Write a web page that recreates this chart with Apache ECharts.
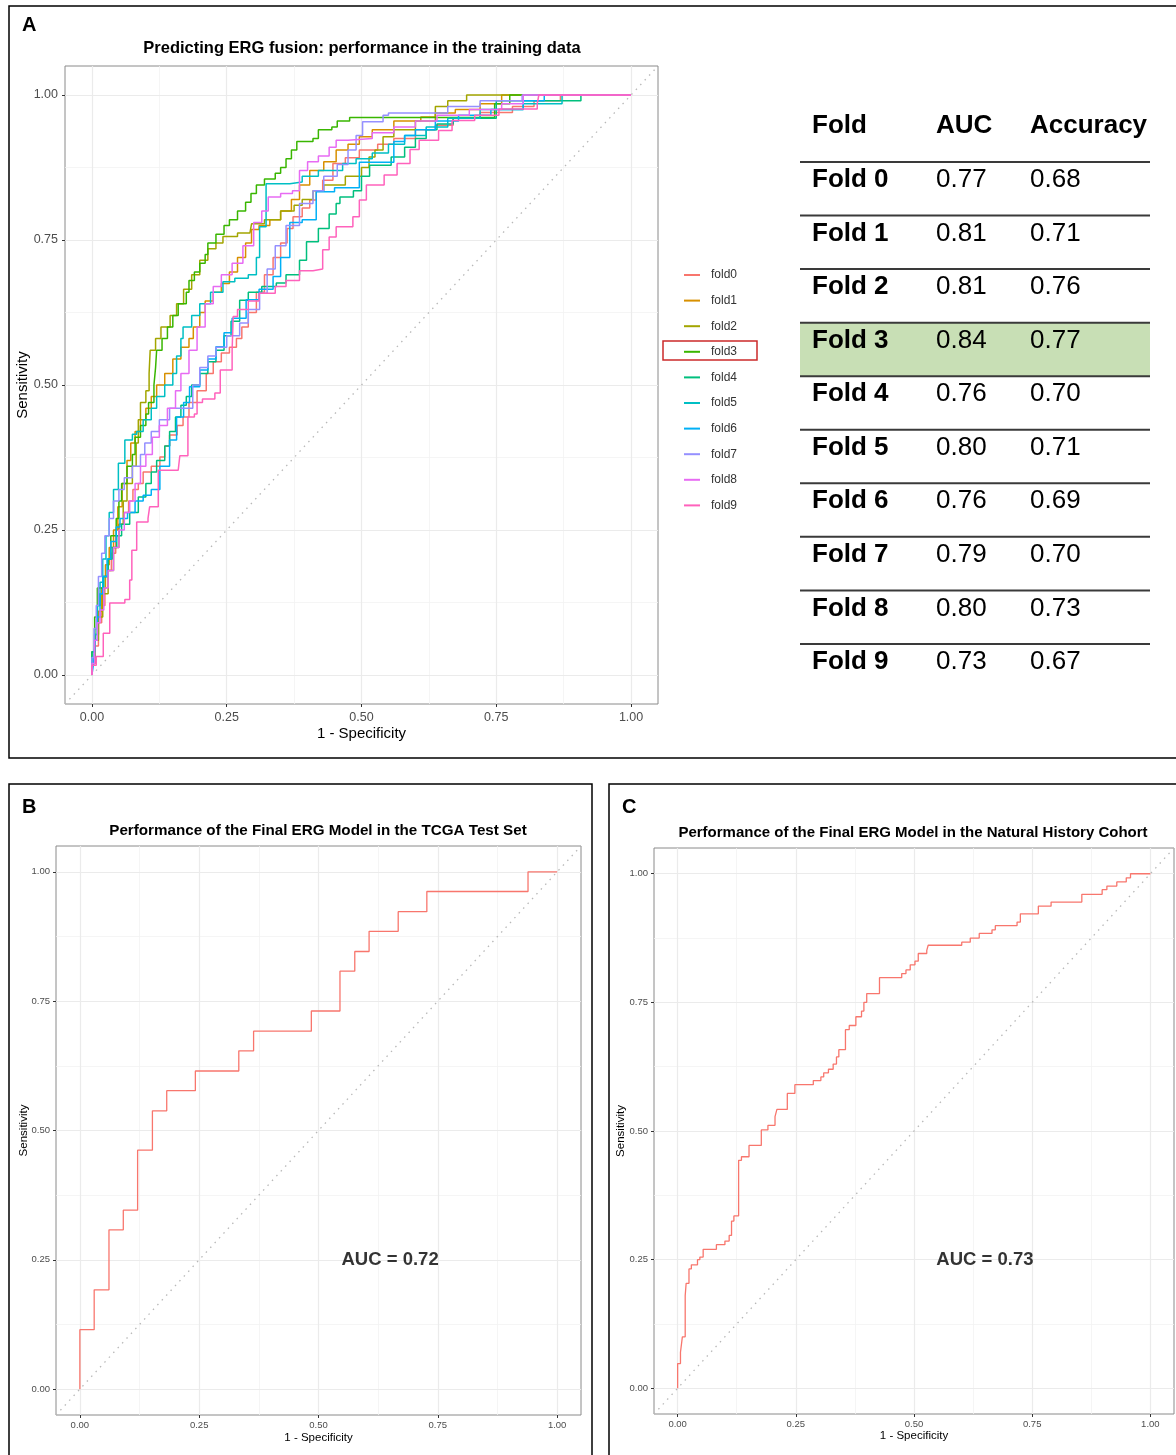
<!DOCTYPE html>
<html>
<head>
<meta charset="utf-8">
<script src="https://cdn.jsdelivr.net/npm/echarts@6/dist/echarts.min.js"></script>
<style>
  html, body { margin: 0; padding: 0; background: #ffffff; }
  #chart { width: 1176px; height: 1455px; }
</style>
</head>
<body>
<div id="chart"></div>
<script>
// ---- ROC curves of the 10 cross-validation folds: [1 - specificity, sensitivity] corner points ----
const foldNames = ['fold0', 'fold1', 'fold2', 'fold3', 'fold4', 'fold5', 'fold6', 'fold7', 'fold8', 'fold9'];

const fold0 = [[0,0],[0,0.02],[0.006,0.05],[0.012,0.09],[0.018,0.12],[0.024,0.15],[0.03,0.18],[0.036,0.21],[0.044,0.24],[0.05,0.26],[0.06,0.28],[0.068,0.3],[0.076,0.32],[0.086,0.33],[0.095,0.35],[0.11,0.36],[0.126,0.376],[0.135,0.395],[0.144,0.414],[0.158,0.43],[0.169,0.445],[0.18,0.47],[0.195,0.49],[0.212,0.52],[0.225,0.54],[0.24,0.555],[0.255,0.565],[0.268,0.58],[0.278,0.6],[0.29,0.625],[0.305,0.66],[0.32,0.69],[0.336,0.72],[0.35,0.745],[0.362,0.77],[0.373,0.79],[0.39,0.805],[0.404,0.819],[0.416,0.835],[0.428,0.853],[0.447,0.882],[0.47,0.892],[0.496,0.905],[0.53,0.915],[0.56,0.925],[0.6,0.94],[0.637,0.948],[0.67,0.96],[0.72,0.97],[0.78,0.98],[0.82,0.99],[0.869,1],[1,1]];
const fold1 = [[0,0],[0,0.03],[0.006,0.07],[0.012,0.11],[0.018,0.15],[0.025,0.19],[0.032,0.22],[0.04,0.25],[0.048,0.29],[0.056,0.33],[0.065,0.37],[0.072,0.4],[0.08,0.42],[0.09,0.44],[0.1,0.46],[0.11,0.48],[0.12,0.5],[0.135,0.52],[0.15,0.545],[0.165,0.565],[0.18,0.58],[0.188,0.6],[0.2,0.625],[0.21,0.645],[0.225,0.66],[0.24,0.675],[0.255,0.695],[0.27,0.72],[0.285,0.745],[0.296,0.768],[0.31,0.775],[0.33,0.785],[0.35,0.8],[0.37,0.82],[0.385,0.845],[0.404,0.87],[0.43,0.885],[0.453,0.905],[0.475,0.915],[0.496,0.928],[0.52,0.94],[0.56,0.955],[0.61,0.962],[0.637,0.969],[0.674,0.975],[0.72,0.985],[0.76,1],[1,1]];
const fold2 = [[0,0],[0,0.02],[0.005,0.06],[0.012,0.1],[0.02,0.14],[0.03,0.18],[0.04,0.22],[0.05,0.26],[0.058,0.3],[0.065,0.33],[0.075,0.36],[0.082,0.4],[0.086,0.44],[0.09,0.47],[0.1,0.49],[0.106,0.52],[0.108,0.56],[0.118,0.58],[0.128,0.6],[0.145,0.62],[0.157,0.64],[0.17,0.665],[0.185,0.69],[0.2,0.715],[0.215,0.735],[0.23,0.745],[0.243,0.756],[0.27,0.762],[0.293,0.765],[0.296,0.778],[0.32,0.785],[0.35,0.8],[0.375,0.81],[0.39,0.82],[0.41,0.835],[0.43,0.845],[0.47,0.86],[0.5,0.875],[0.514,0.893],[0.525,0.905],[0.54,0.928],[0.56,0.94],[0.6,0.955],[0.637,0.98],[0.66,0.99],[0.695,1],[1,1]];
const fold3 = [[0,0],[0,0.04],[0.005,0.1],[0.01,0.15],[0.02,0.17],[0.03,0.2],[0.035,0.24],[0.045,0.27],[0.05,0.3],[0.055,0.33],[0.065,0.36],[0.075,0.38],[0.08,0.41],[0.09,0.43],[0.1,0.45],[0.105,0.47],[0.115,0.5],[0.118,0.53],[0.12,0.56],[0.13,0.58],[0.14,0.6],[0.15,0.62],[0.16,0.64],[0.175,0.66],[0.18,0.68],[0.19,0.695],[0.2,0.71],[0.21,0.725],[0.215,0.745],[0.23,0.76],[0.245,0.775],[0.255,0.785],[0.27,0.8],[0.285,0.815],[0.295,0.83],[0.305,0.845],[0.32,0.855],[0.34,0.865],[0.35,0.875],[0.36,0.89],[0.37,0.905],[0.38,0.92],[0.41,0.925],[0.42,0.94],[0.445,0.945],[0.455,0.955],[0.478,0.961],[0.747,0.985],[0.775,1],[1,1]];
const fold4 = [[0,0],[0,0.04],[0.005,0.08],[0.01,0.12],[0.015,0.14],[0.022,0.17],[0.03,0.2],[0.038,0.22],[0.046,0.24],[0.055,0.26],[0.07,0.28],[0.086,0.307],[0.1,0.33],[0.11,0.35],[0.12,0.37],[0.135,0.395],[0.144,0.42],[0.155,0.445],[0.165,0.465],[0.175,0.48],[0.185,0.5],[0.2,0.52],[0.215,0.54],[0.23,0.56],[0.245,0.585],[0.258,0.61],[0.274,0.646],[0.29,0.66],[0.315,0.67],[0.342,0.676],[0.36,0.69],[0.385,0.715],[0.398,0.747],[0.42,0.77],[0.44,0.795],[0.453,0.813],[0.46,0.824],[0.485,0.835],[0.5,0.86],[0.515,0.879],[0.555,0.893],[0.58,0.91],[0.6,0.925],[0.62,0.94],[0.64,0.95],[0.67,0.96],[0.75,0.99],[0.907,1],[1,1]];
const fold5 = [[0,0],[0,0.03],[0.005,0.07],[0.01,0.12],[0.015,0.16],[0.02,0.2],[0.026,0.24],[0.032,0.28],[0.04,0.32],[0.049,0.365],[0.061,0.405],[0.075,0.415],[0.083,0.42],[0.095,0.44],[0.11,0.46],[0.12,0.48],[0.135,0.5],[0.15,0.52],[0.157,0.55],[0.165,0.58],[0.169,0.6],[0.185,0.62],[0.2,0.64],[0.22,0.66],[0.243,0.678],[0.265,0.684],[0.29,0.69],[0.305,0.72],[0.311,0.773],[0.323,0.847],[0.367,0.85],[0.39,0.86],[0.42,0.87],[0.465,0.882],[0.49,0.89],[0.52,0.9],[0.55,0.915],[0.58,0.93],[0.62,0.945],[0.66,0.96],[0.72,0.975],[0.8,0.985],[0.872,1],[1,1]];
const fold6 = [[0,0],[0.003,0.02],[0.006,0.06],[0.01,0.1],[0.015,0.14],[0.02,0.17],[0.028,0.2],[0.035,0.23],[0.045,0.255],[0.052,0.27],[0.066,0.28],[0.08,0.3],[0.095,0.31],[0.11,0.32],[0.126,0.36],[0.144,0.405],[0.157,0.445],[0.17,0.47],[0.181,0.497],[0.2,0.526],[0.215,0.545],[0.23,0.566],[0.245,0.59],[0.26,0.615],[0.286,0.647],[0.31,0.665],[0.336,0.687],[0.35,0.72],[0.367,0.78],[0.39,0.785],[0.416,0.833],[0.45,0.84],[0.496,0.884],[0.554,0.884],[0.56,0.92],[0.58,0.93],[0.6,0.94],[0.637,0.955],[0.68,0.965],[0.74,0.975],[0.8,0.99],[0.839,1],[1,1]];
const fold7 = [[0,0],[0,0.03],[0.004,0.08],[0.008,0.12],[0.012,0.17],[0.018,0.21],[0.024,0.24],[0.032,0.27],[0.04,0.3],[0.05,0.32],[0.06,0.34],[0.075,0.36],[0.09,0.38],[0.098,0.4],[0.11,0.42],[0.125,0.44],[0.144,0.46],[0.181,0.46],[0.187,0.5],[0.2,0.53],[0.215,0.55],[0.23,0.565],[0.25,0.585],[0.274,0.607],[0.29,0.63],[0.311,0.658],[0.325,0.7],[0.34,0.74],[0.36,0.775],[0.385,0.813],[0.41,0.835],[0.43,0.86],[0.455,0.88],[0.475,0.905],[0.49,0.93],[0.502,0.954],[0.54,0.965],[0.55,0.969],[0.625,0.969],[0.66,0.98],[0.72,0.99],[0.798,1],[1,1]];
const fold8 = [[0,0],[0,0.02],[0.005,0.06],[0.01,0.09],[0.015,0.112],[0.022,0.15],[0.03,0.18],[0.04,0.22],[0.05,0.25],[0.06,0.28],[0.07,0.3],[0.08,0.33],[0.09,0.36],[0.1,0.38],[0.112,0.41],[0.125,0.43],[0.14,0.46],[0.155,0.49],[0.165,0.52],[0.18,0.56],[0.195,0.6],[0.21,0.64],[0.225,0.67],[0.24,0.69],[0.26,0.71],[0.28,0.74],[0.3,0.78],[0.315,0.8],[0.327,0.824],[0.35,0.83],[0.372,0.835],[0.385,0.87],[0.4,0.885],[0.42,0.895],[0.44,0.91],[0.453,0.922],[0.475,0.925],[0.52,0.935],[0.56,0.945],[0.6,0.955],[0.64,0.965],[0.7,0.975],[0.76,0.985],[0.8,1],[1,1]];
const fold9 = [[0,0],[0,0.017],[0.008,0.032],[0.021,0.072],[0.033,0.124],[0.061,0.13],[0.07,0.164],[0.074,0.215],[0.083,0.264],[0.104,0.27],[0.107,0.29],[0.123,0.353],[0.16,0.353],[0.163,0.378],[0.178,0.445],[0.19,0.45],[0.195,0.47],[0.205,0.476],[0.228,0.486],[0.238,0.526],[0.26,0.56],[0.262,0.618],[0.27,0.63],[0.29,0.645],[0.31,0.658],[0.34,0.67],[0.36,0.68],[0.385,0.697],[0.41,0.7],[0.428,0.733],[0.44,0.755],[0.453,0.773],[0.484,0.79],[0.496,0.819],[0.509,0.845],[0.542,0.862],[0.566,0.882],[0.59,0.906],[0.607,0.922],[0.643,0.939],[0.668,0.956],[0.71,0.965],[0.755,0.976],[0.826,0.985],[0.829,1],[1,1]];
const foldCurves = [fold0, fold1, fold2, fold3, fold4, fold5, fold6, fold7, fold8, fold9];

// ---- Per-fold summary table ----
const tableFolds = ['Fold 0', 'Fold 1', 'Fold 2', 'Fold 3', 'Fold 4', 'Fold 5', 'Fold 6', 'Fold 7', 'Fold 8', 'Fold 9'];
const tableAUC = ['0.77', '0.81', '0.81', '0.84', '0.76', '0.80', '0.76', '0.79', '0.80', '0.73'];
const tableAccuracy = ['0.68', '0.71', '0.76', '0.77', '0.70', '0.71', '0.69', '0.70', '0.73', '0.67'];
const bestFoldRow = 3;

// ---- Final model: TCGA test set ----
const tcgaROC = [[0,0],[0,0.115],[0.03,0.192],[0.061,0.308],[0.091,0.346],[0.121,0.462],[0.152,0.538],[0.182,0.577],[0.242,0.615],[0.333,0.654],[0.364,0.692],[0.485,0.731],[0.545,0.808],[0.576,0.846],[0.606,0.885],[0.667,0.923],[0.727,0.962],[0.939,1],[1,1]];
const tcgaAUC = 0.72;

// ---- Final model: natural history cohort ----
const nhROC = [[0,0],[0,0.048],[0.006,0.07],[0.01,0.1],[0.016,0.18],[0.018,0.204],[0.024,0.232],[0.029,0.24],[0.042,0.25],[0.047,0.255],[0.054,0.27],[0.082,0.279],[0.1,0.286],[0.109,0.297],[0.114,0.325],[0.119,0.335],[0.129,0.443],[0.135,0.45],[0.151,0.472],[0.177,0.502],[0.191,0.511],[0.206,0.528],[0.21,0.542],[0.232,0.573],[0.248,0.59],[0.287,0.598],[0.303,0.605],[0.309,0.613],[0.319,0.62],[0.329,0.63],[0.336,0.644],[0.341,0.658],[0.355,0.697],[0.363,0.705],[0.377,0.722],[0.389,0.733],[0.394,0.75],[0.4,0.767],[0.427,0.798],[0.474,0.806],[0.483,0.813],[0.492,0.823],[0.502,0.83],[0.509,0.845],[0.527,0.851],[0.53,0.861],[0.601,0.867],[0.619,0.875],[0.638,0.884],[0.665,0.891],[0.672,0.899],[0.718,0.906],[0.725,0.922],[0.763,0.937],[0.79,0.945],[0.855,0.96],[0.898,0.969],[0.908,0.976],[0.929,0.984],[0.949,0.992],[0.958,1],[1,1]];
const nhAUC = 0.73;
const aucLabelAt = [0.65, 0.25];

// ---- Axis ticks and chance line ----
const axisTicks = [0, 0.25, 0.5, 0.75, 1];
const axisMinorTicks = [0.125, 0.375, 0.625, 0.875];
const chanceLine = [[-0.05, -0.05], [1.05, 1.05]];

// ---- Styling ----
const FONT = 'Liberation Sans';
const foldColors = ['#F8766D', '#D89000', '#A3A500', '#39B600', '#00BF7D', '#00BFC4', '#00B0F6', '#9590FF', '#E76BF3', '#FF62BC'];
const rocColor = '#F8766D';

const panels = [
  { grid: { left: 65, top: 66, width: 593, height: 638 }, tickFont: 12.5, nameFont: 15, xGap: 22, yGap: 35, xMargin: 7, yMargin: 7 },
  { grid: { left: 56, top: 846, width: 525, height: 569 }, tickFont: 9.5, nameFont: 11.5, xGap: 17, yGap: 26, xMargin: 5, yMargin: 6 },
  { grid: { left: 654, top: 848, width: 520, height: 566 }, tickFont: 9.5, nameFont: 11.5, xGap: 16, yGap: 27, xMargin: 5, yMargin: 6 }
];

function makeAxis(dim, gridIndex, p, minor) {
  const ax = {
    type: 'value',
    gridIndex: gridIndex,
    min: -0.05,
    max: 1.05,
    position: dim === 'x' ? 'bottom' : 'left',
    axisLine: { show: false, onZero: false },
    axisTick: minor
      ? { show: false, customValues: axisMinorTicks }
      : { show: true, customValues: axisTicks, length: 3, lineStyle: { color: '#333333', width: 1 } },
    axisLabel: minor
      ? { show: false, customValues: axisMinorTicks }
      : { show: true, customValues: axisTicks, formatter: v => v.toFixed(2), fontSize: p.tickFont, color: '#4d4d4d', fontFamily: FONT, margin: dim === 'x' ? p.xMargin : p.yMargin },
    splitLine: { show: true, lineStyle: { color: minor ? '#f2f2f2' : '#ebebeb', width: minor ? 0.8 : 1.2 } },
    z: minor ? 0 : 1
  };
  if (!minor) {
    ax.name = dim === 'x' ? '1 - Specificity' : 'Sensitivity';
    ax.nameLocation = 'middle';
    ax.nameGap = dim === 'x' ? p.xGap : p.yGap;
    ax.nameMoveOverlap = false;
    ax.nameRotate = dim === 'x' ? 0 : 90;
    ax.nameTextStyle = { fontSize: p.nameFont, color: '#000000', fontFamily: FONT };
  }
  return ax;
}

const grids = [], xAxes = [], yAxes = [];
panels.forEach((p, i) => {
  grids.push(Object.assign({ show: true, borderColor: '#8a8a8a', borderWidth: 1, backgroundColor: '#ffffff' }, p.grid));
  xAxes.push(makeAxis('x', i, p, false), makeAxis('x', i, p, true));
  yAxes.push(makeAxis('y', i, p, false), makeAxis('y', i, p, true));
});

const series = [];
[0, 1, 2].forEach(g => {
  series.push({
    type: 'line', xAxisIndex: g * 2, yAxisIndex: g * 2, data: chanceLine,
    showSymbol: false, silent: true, z: 2,
    lineStyle: { color: '#b8b8b8', width: 1.3, type: [1.5, 5] }
  });
});

foldCurves.forEach((curve, i) => {
  series.push({
    name: foldNames[i], type: 'line', xAxisIndex: 0, yAxisIndex: 0,
    data: curve, step: 'end', showSymbol: false, z: 3,
    color: foldColors[i],
    lineStyle: { color: foldColors[i], width: 1.5 }
  });
});

[[tcgaROC, tcgaAUC, 1], [nhROC, nhAUC, 2]].forEach(([curve, auc, g]) => {
  series.push({
    type: 'line', xAxisIndex: g * 2, yAxisIndex: g * 2,
    data: curve, step: 'end', showSymbol: false, z: 3,
    lineStyle: { color: rocColor, width: 1.3 }
  });
  series.push({
    type: 'scatter', xAxisIndex: g * 2, yAxisIndex: g * 2,
    data: [[aucLabelAt[0], aucLabelAt[1], auc]], symbolSize: 0.1, silent: true, z: 4,
    itemStyle: { color: 'rgba(0,0,0,0)' },
    label: {
      show: true, position: 'inside',
      formatter: p => 'AUC = ' + p.value[2].toFixed(2),
      fontSize: 18.5, fontWeight: 'bold', color: '#000000', fontFamily: FONT
    }
  });
});

// ---- Table, panel frames, panel letters and titles ----
const graphic = [];
function frame(x, y, w, h) {
  graphic.push({ type: 'rect', shape: { x: x, y: y, width: w, height: h }, style: { fill: 'none', stroke: '#000000', lineWidth: 1.5 }, z: 10, silent: true });
}
frame(9, 6, 1180, 752);
frame(9, 784, 583, 700);
frame(609, 784, 600, 700);

function text(str, x, y, font, opts) {
  graphic.push(Object.assign({
    type: 'text', x: x, y: y, silent: true, z: 12,
    style: Object.assign({ text: str, font: font, fill: '#000000', textAlign: 'left', textVerticalAlign: 'middle' }, (opts && opts.style) || {})
  }, (opts && opts.el) || {}));
}
text('A', 22, 25, 'bold 20px ' + FONT);
text('B', 22, 807, 'bold 20px ' + FONT);
text('C', 622, 807, 'bold 20px ' + FONT);
text('Predicting ERG fusion: performance in the training data', 362, 48, 'bold 16.5px ' + FONT, { style: { textAlign: 'center' } });
text('Performance of the Final ERG Model in the TCGA Test Set', 318, 831, 'bold 15.2px ' + FONT, { style: { textAlign: 'center' } });
text('Performance of the Final ERG Model in the Natural History Cohort', 913, 833, 'bold 15px ' + FONT, { style: { textAlign: 'center' } });

// table
const tblLeft = 800, tblRight = 1150, colX = [812, 936, 1030];
const headerY = 126, firstRowY = 180, rowStep = 53.55;
graphic.push({
  type: 'rect', silent: true, z: 11,
  shape: { x: tblLeft, y: firstRowY + bestFoldRow * rowStep - 18, width: tblRight - tblLeft, height: rowStep },
  style: { fill: '#c8dfb5' }
});
text('Fold', colX[0], headerY, 'bold 26px ' + FONT);
text('AUC', colX[1], headerY, 'bold 26px ' + FONT);
text('Accuracy', colX[2], headerY, 'bold 26px ' + FONT);
tableFolds.forEach((f, i) => {
  const y = firstRowY + i * rowStep;
  graphic.push({
    type: 'line', silent: true, z: 12,
    shape: { x1: tblLeft, y1: y - 18, x2: tblRight, y2: y - 18 },
    style: { stroke: '#3a3a3a', lineWidth: 2 }
  });
  text(f, colX[0], y, 'bold 26px ' + FONT);
  text(tableAUC[i], colX[1], y, '26px ' + FONT);
  text(tableAccuracy[i], colX[2], y, '26px ' + FONT);
});

// highlight around the best fold in the legend
graphic.push({
  type: 'rect', silent: true, z: 12,
  shape: { x: 663, y: 341, width: 94, height: 19 },
  style: { fill: 'none', stroke: '#cc2a2a', lineWidth: 1.5 }
});

const chart = echarts.init(document.getElementById('chart'), null, { renderer: 'canvas', width: 1176, height: 1455 });
chart.setOption({
  animation: false,
  backgroundColor: '#ffffff',
  textStyle: { fontFamily: FONT },
  grid: grids,
  xAxis: xAxes,
  yAxis: yAxes,
  legend: {
    data: foldNames,
    orient: 'vertical',
    left: 684,
    top: 268,
    padding: 0,
    icon: 'rect',
    itemWidth: 16,
    itemHeight: 2,
    itemGap: 11.6,
    selectedMode: false,
    textStyle: { fontSize: 12, color: '#333333', fontFamily: FONT, lineHeight: 14, padding: [0, 0, 0, 6] }
  },
  series: series,
  graphic: graphic
});
</script>
</body>
</html>
